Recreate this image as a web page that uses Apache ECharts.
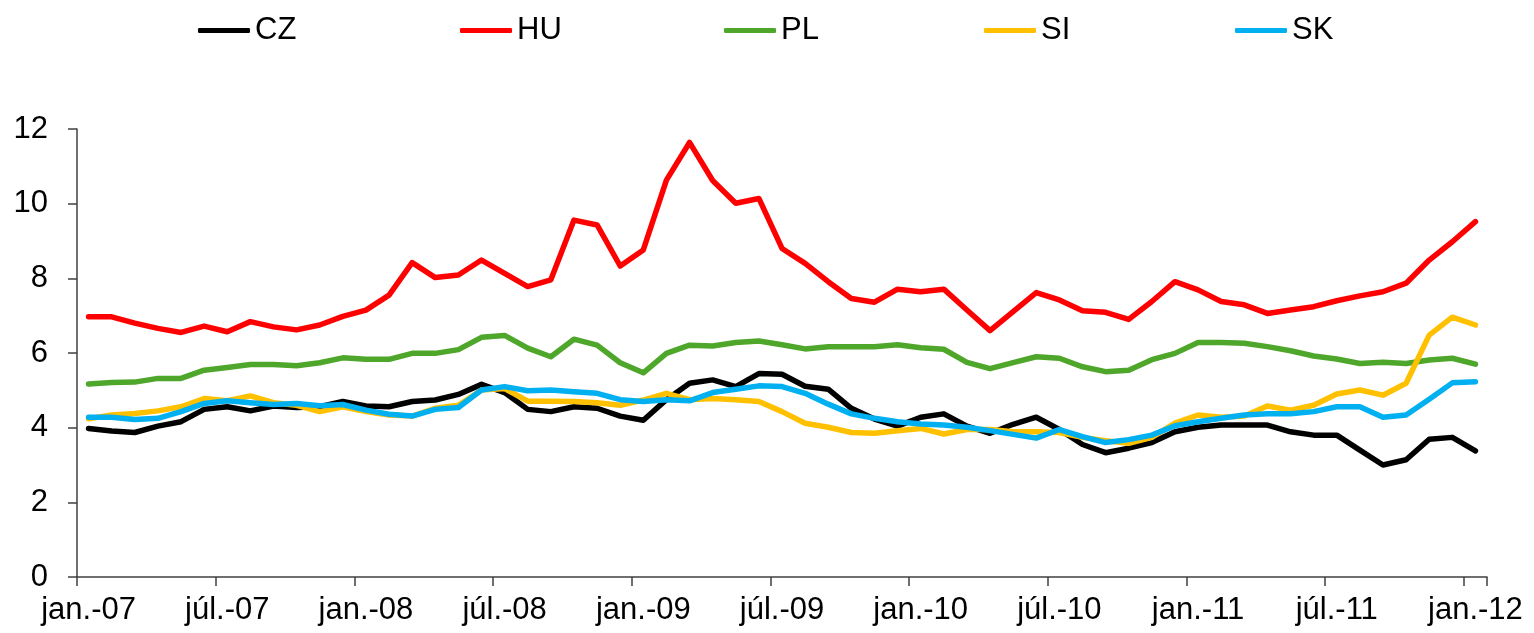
<!DOCTYPE html>
<html>
<head>
<meta charset="utf-8">
<script src="https://cdn.jsdelivr.net/npm/echarts@6/dist/echarts.min.js"></script>
<style>
html,body{margin:0;padding:0;background:#fff;}
#chart{width:1534px;height:633px;}
</style>
</head>
<body>
<div id="chart"></div>
<script>
const categories = [
 'jan.-07','febr.-07','márc.-07','ápr.-07','máj.-07','jún.-07','júl.-07','aug.-07','szept.-07','okt.-07','nov.-07','dec.-07',
 'jan.-08','febr.-08','márc.-08','ápr.-08','máj.-08','jún.-08','júl.-08','aug.-08','szept.-08','okt.-08','nov.-08','dec.-08',
 'jan.-09','febr.-09','márc.-09','ápr.-09','máj.-09','jún.-09','júl.-09','aug.-09','szept.-09','okt.-09','nov.-09','dec.-09',
 'jan.-10','febr.-10','márc.-10','ápr.-10','máj.-10','jún.-10','júl.-10','aug.-10','szept.-10','okt.-10','nov.-10','dec.-10',
 'jan.-11','febr.-11','márc.-11','ápr.-11','máj.-11','jún.-11','júl.-11','aug.-11','szept.-11','okt.-11','nov.-11','dec.-11',
 'jan.-12'
];
const seriesNames = ['CZ','HU','PL','SI','SK'];
const CZ = [3.98,3.91,3.87,4.04,4.16,4.49,4.56,4.45,4.58,4.54,
            4.56,4.70,4.58,4.56,4.70,4.74,4.89,5.16,4.94,4.49,
            4.43,4.56,4.52,4.31,4.20,4.75,5.19,5.28,5.10,5.45,
            5.43,5.11,5.03,4.52,4.23,4.04,4.28,4.37,4.04,3.85,
            4.09,4.28,3.95,3.55,3.33,3.45,3.60,3.89,4.01,4.07,
            4.07,4.07,3.89,3.80,3.80,3.40,3.00,3.14,3.69,3.74,3.38];
const HU = [6.97,6.97,6.80,6.66,6.55,6.72,6.57,6.84,6.70,6.62,
            6.75,6.98,7.15,7.55,8.42,8.02,8.09,8.49,8.13,7.78,
            7.96,9.56,9.43,8.33,8.76,10.63,11.64,10.62,10.01,10.14,
            8.80,8.40,7.91,7.46,7.36,7.71,7.64,7.71,7.15,6.60,
            7.11,7.62,7.42,7.13,7.09,6.90,7.38,7.91,7.69,7.38,
            7.29,7.06,7.15,7.24,7.40,7.53,7.64,7.87,8.49,8.98,9.52];
const PL = [5.17,5.21,5.22,5.32,5.32,5.54,5.61,5.69,5.69,5.66,
            5.74,5.87,5.83,5.83,5.99,5.99,6.09,6.42,6.47,6.13,
            5.90,6.37,6.21,5.74,5.47,5.99,6.21,6.19,6.28,6.32,
            6.22,6.11,6.17,6.17,6.17,6.22,6.14,6.10,5.75,5.58,
            5.74,5.90,5.86,5.63,5.50,5.54,5.82,5.99,6.28,6.28,
            6.26,6.17,6.06,5.92,5.84,5.72,5.75,5.72,5.81,5.86,5.70];
const SI = [4.24,4.34,4.38,4.45,4.56,4.78,4.72,4.85,4.67,4.60,
            4.43,4.56,4.43,4.34,4.31,4.52,4.60,5.01,5.05,4.71,
            4.71,4.70,4.67,4.60,4.74,4.92,4.75,4.78,4.75,4.70,
            4.43,4.12,4.01,3.87,3.85,3.92,3.98,3.83,3.95,3.95,
            3.89,3.89,3.87,3.74,3.65,3.58,3.74,4.12,4.34,4.28,
            4.31,4.58,4.47,4.60,4.90,5.01,4.87,5.19,6.48,6.96,6.75];
const SK = [4.28,4.28,4.22,4.25,4.43,4.65,4.72,4.67,4.62,4.65,
            4.59,4.62,4.47,4.36,4.31,4.49,4.54,5.01,5.10,4.99,
            5.01,4.96,4.92,4.75,4.70,4.75,4.72,4.94,5.03,5.12,
            5.10,4.92,4.63,4.37,4.25,4.16,4.10,4.07,4.01,3.92,
            3.82,3.72,3.95,3.76,3.60,3.68,3.80,4.05,4.16,4.25,
            4.34,4.37,4.37,4.43,4.56,4.56,4.28,4.34,4.76,5.20,5.23];
const yTicks = [0,2,4,6,8,10,12];

const seriesData = {CZ:CZ, HU:HU, PL:PL, SI:SI, SK:SK};
const colors = {CZ:'#000000', HU:'#FF0000', PL:'#4EA72A', SI:'#FFC000', SK:'#00B0F0'};
const legendLeft = {CZ:198, HU:460, PL:724, SI:984, SK:1235};
const FONT = '"Liberation Sans", Arial, sans-serif';

const chart = echarts.init(document.getElementById('chart'), null, {renderer:'canvas'});
chart.setOption({
  animation:false,
  backgroundColor:'#ffffff',
  textStyle:{fontFamily:FONT},
  legend: seriesNames.map(n => ({
    data:[n], left:legendLeft[n], top:15, padding:0,
    icon:'roundRect', itemWidth:52, itemHeight:5, itemGap:0,
    textStyle:{fontSize:31, color:'#000', fontFamily:FONT},
    selectedMode:false
  })),
  grid:{left:77, right:47, top:129, bottom:56, containLabel:false},
  xAxis:{
    type:'category', data:categories, boundaryGap:true,
    axisLine:{lineStyle:{color:'#404040', width:1.5}},
    axisTick:{show:true, interval:5, length:9, lineStyle:{color:'#404040', width:1.5}},
    axisLabel:{interval:5, fontSize:31, color:'#000', margin:18, fontFamily:FONT},
    splitLine:{show:false}
  },
  yAxis:{
    type:'value', min:yTicks[0], max:yTicks[yTicks.length-1], interval:2,
    axisLine:{show:true, lineStyle:{color:'#404040', width:1.5}},
    axisTick:{show:true, length:9, lineStyle:{color:'#404040', width:1.5}},
    axisLabel:{fontSize:31, color:'#000', margin:29, fontFamily:FONT},
    splitLine:{show:false}
  },
  series: seriesNames.map(n => ({
    name:n, type:'line', data:seriesData[n], symbol:'none', smooth:false,
    lineStyle:{color:colors[n], width:5.5, cap:'round', join:'round'},
    itemStyle:{color:colors[n]}
  }))
});
</script>
</body>
</html>
